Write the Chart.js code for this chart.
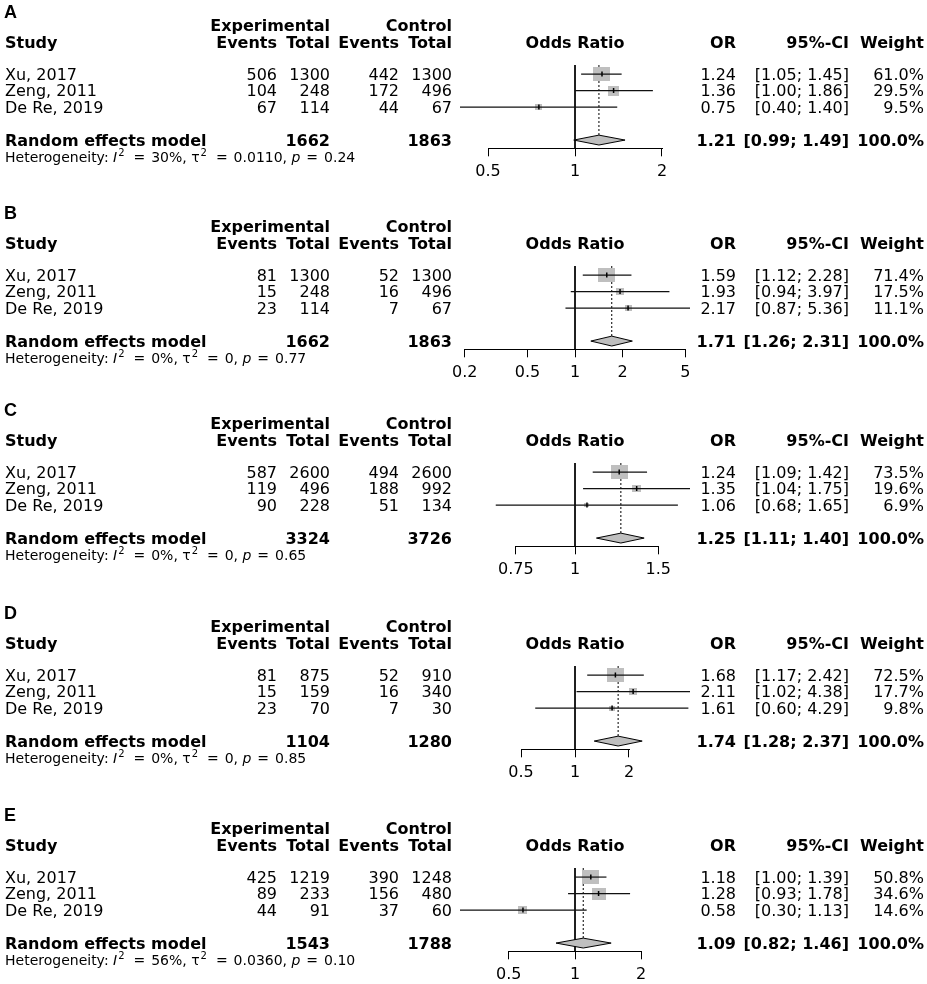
<!DOCTYPE html>
<html><head><meta charset="utf-8">
<script src="https://cdn.jsdelivr.net/npm/chart.js@4.4.1/dist/chart.umd.min.js"></script>
<style>
html,body{margin:0;padding:0;background:#fff;}
body{width:927px;height:984px;overflow:hidden;position:relative;}
canvas.panel{position:absolute;left:0;}
</style></head><body>
<script>
// ---------------- DATA ----------------
const panelLetters = ["A", "B", "C", "D", "E"];
const studies = ["Xu, 2017", "Zeng, 2011", "De Re, 2019"];
const expEvents  = [[506,104,67],[81,15,23],[587,119,90],[81,15,23],[425,89,44]];
const expTotal   = [[1300,248,114],[1300,248,114],[2600,496,228],[875,159,70],[1219,233,91]];
const ctrlEvents = [[442,172,44],[52,16,7],[494,188,51],[52,16,7],[390,156,37]];
const ctrlTotal  = [[1300,496,67],[1300,496,67],[2600,992,134],[910,340,30],[1248,480,60]];
const oddsRatio  = [[1.24,1.36,0.75],[1.59,1.93,2.17],[1.24,1.35,1.06],[1.68,2.11,1.61],[1.18,1.28,0.58]];
const ciLower    = [[1.05,1.00,0.40],[1.12,0.94,0.87],[1.09,1.04,0.68],[1.17,1.02,0.60],[1.00,0.93,0.30]];
const ciUpper    = [[1.45,1.86,1.40],[2.28,3.97,5.36],[1.42,1.75,1.65],[2.42,4.38,4.29],[1.39,1.78,1.13]];
const weightPct  = [[61.0,29.5,9.5],[71.4,17.5,11.1],[73.5,19.6,6.9],[72.5,17.7,9.8],[50.8,34.6,14.6]];
const pooledOR    = [1.21,1.71,1.25,1.74,1.09];
const pooledLower = [0.99,1.26,1.11,1.28,0.82];
const pooledUpper = [1.49,2.31,1.40,2.37,1.46];
const hetI2   = ["30%","0%","0%","0%","56%"];
const hetTau2 = ["0.0110","0","0","0","0.0360"];
const hetP    = ["0.24","0.77","0.65","0.85","0.10"];
const axisTicks = [[0.5,1,2],[0.2,0.5,1,2,5],[0.75,1,1.5],[0.5,1,2],[0.5,1,2]];

// ---------------- LAYOUT ----------------
const PANEL_TOP = [0, 201, 398, 601, 803];
const PANEL_W = 927, PANEL_H = 200;
const ROW_H = 16.5;
const Y_MIN = -0.55, Y_MAX = 4.5;
const TOP_PAD = 65;
const PLOT_LEFT = 460, PLOT_RIGHT = 690;
const AXIS_H = 40;
const POOLED_ROW = 4;
const DIAMOND_HALF = 0.3;
const FONT = '"DejaVu Sans", "Liberation Sans", sans-serif';
const GREY = '#bfbfbf';
const COL = {study:5, expEv:277, expTot:330, ctlEv:399, ctlTot:452, or:736, ci:849, w:924, plot:575};
const SQ_W = 16.5, SQ_H = 14;

function rectImage(s) {
  const c = document.createElement('canvas');
  c.width = Math.max(2, Math.round(SQ_W * s));
  c.height = Math.max(2, Math.round(SQ_H * s));
  const g = c.getContext('2d');
  g.fillStyle = GREY;
  g.fillRect(0, 0, c.width, c.height);
  return c;
}

function txt(ctx, s, x, yc, align, weight, size) {
  ctx.font = weight + ' ' + size + 'px ' + FONT;
  ctx.textAlign = align;
  ctx.textBaseline = 'alphabetic';
  ctx.fillStyle = '#000';
  ctx.fillText(s, x, yc + 0.365 * size);
}

// heterogeneity line, plotmath-like spacing
function drawHet(ctx, x, yc, p) {
  const size = 14, sup = 10, SUP_GAP = 3, EQ_PAD = 1.5;
  const base = yc + 0.365 * size;
  const parts = [
    ['Heterogeneity: ', 'n'], ['I', 'i'], ['2', 's'], ['=', 'e'], [hetI2[p] + ', ', 'n'],
    ['\u03C4', 'n'], ['2', 's'], ['=', 'e'], [hetTau2[p] + ', ', 'n'], ['p', 'i'], ['=', 'e'], [hetP[p], 'n']
  ];
  ctx.textAlign = 'left';
  ctx.textBaseline = 'alphabetic';
  ctx.fillStyle = '#000';
  let cx = x;
  for (const [s, k] of parts) {
    if (k === 's') {
      ctx.font = sup + 'px ' + FONT;
      ctx.fillText(s, cx + 1, base - 6);
      cx += ctx.measureText(s).width + 1 + SUP_GAP;
    } else if (k === 'e') {
      ctx.font = size + 'px ' + FONT;
      const sp = ctx.measureText(' ').width;
      cx += sp + EQ_PAD;
      ctx.fillText(s, cx, base);
      cx += ctx.measureText(s).width + EQ_PAD + sp;
    } else {
      ctx.font = (k === 'i' ? 'italic ' : '') + size + 'px ' + FONT;
      ctx.fillText(s, cx, base);
      cx += ctx.measureText(s).width;
    }
  }
}

const forestText = {
  id: 'forestText',
  afterDraw(chart) {
    const p = chart.options.plugins.forestText.panel;
    const ctx = chart.ctx;
    const ys = chart.scales.y, xs = chart.scales.x;
    const y = r => ys.getPixelForValue(r);
    ctx.save();
    // axis baseline between outer ticks
    const t = axisTicks[p];
    const ay = Math.round(xs.top - 0.5) + 0.5;
    ctx.strokeStyle = '#000'; ctx.lineWidth = 1;
    ctx.beginPath();
    ctx.moveTo(Math.round(xs.getPixelForValue(t[0])), ay);
    ctx.lineTo(Math.round(xs.getPixelForValue(t[t.length - 1])) + 1, ay);
    ctx.stroke();

    // panel letter
    ctx.font = 'bold 18px "Liberation Sans", Arial, sans-serif';
    ctx.textAlign = 'left'; ctx.textBaseline = 'alphabetic'; ctx.fillStyle = '#000';
    ctx.fillText(panelLetters[p], 4, y(-3.82) + 0.36 * 18);

    // headers
    txt(ctx, 'Experimental', COL.expTot, y(-2.95), 'right', 'bold', 16);
    txt(ctx, 'Control', COL.ctlTot, y(-2.95), 'right', 'bold', 16);
    const hy = y(-1.95);
    txt(ctx, 'Study', COL.study, hy, 'left', 'bold', 16);
    txt(ctx, 'Events', COL.expEv, hy, 'right', 'bold', 16);
    txt(ctx, 'Total', COL.expTot, hy, 'right', 'bold', 16);
    txt(ctx, 'Events', COL.ctlEv, hy, 'right', 'bold', 16);
    txt(ctx, 'Total', COL.ctlTot, hy, 'right', 'bold', 16);
    txt(ctx, 'Odds Ratio', COL.plot, hy, 'center', 'bold', 16);
    txt(ctx, 'OR', COL.or, hy, 'right', 'bold', 16);
    txt(ctx, '95%-CI', COL.ci, hy, 'right', 'bold', 16);
    txt(ctx, 'Weight', COL.w, hy, 'right', 'bold', 16);

    // study rows
    studies.forEach((s, i) => {
      const ry = y(i);
      txt(ctx, s, COL.study, ry, 'left', 'normal', 16);
      txt(ctx, String(expEvents[p][i]), COL.expEv, ry, 'right', 'normal', 16);
      txt(ctx, String(expTotal[p][i]), COL.expTot, ry, 'right', 'normal', 16);
      txt(ctx, String(ctrlEvents[p][i]), COL.ctlEv, ry, 'right', 'normal', 16);
      txt(ctx, String(ctrlTotal[p][i]), COL.ctlTot, ry, 'right', 'normal', 16);
      txt(ctx, oddsRatio[p][i].toFixed(2), COL.or, ry, 'right', 'normal', 16);
      txt(ctx, '[' + ciLower[p][i].toFixed(2) + '; ' + ciUpper[p][i].toFixed(2) + ']', COL.ci, ry, 'right', 'normal', 16);
      txt(ctx, weightPct[p][i].toFixed(1) + '%', COL.w, ry, 'right', 'normal', 16);
    });

    // pooled row
    const py = y(POOLED_ROW);
    const sum = a => a.reduce((u, v) => u + v, 0);
    txt(ctx, 'Random effects model', COL.study, py, 'left', 'bold', 16);
    txt(ctx, String(sum(expTotal[p])), COL.expTot, py, 'right', 'bold', 16);
    txt(ctx, String(sum(ctrlTotal[p])), COL.ctlTot, py, 'right', 'bold', 16);
    txt(ctx, pooledOR[p].toFixed(2), COL.or, py, 'right', 'bold', 16);
    txt(ctx, '[' + pooledLower[p].toFixed(2) + '; ' + pooledUpper[p].toFixed(2) + ']', COL.ci, py, 'right', 'bold', 16);
    txt(ctx, '100.0%', COL.w, py, 'right', 'bold', 16);

    drawHet(ctx, COL.study, y(5.0), p);
    ctx.restore();
  }
};

function makePanel(p) {
  const cv = document.createElement('canvas');
  cv.className = 'panel';
  cv.width = PANEL_W; cv.height = PANEL_H;
  cv.style.width = PANEL_W + 'px'; cv.style.height = PANEL_H + 'px';
  cv.style.top = PANEL_TOP[p] + 'px';
  document.body.appendChild(cv);

  const M = Math.max(...ciUpper[p], ...ciLower[p].map(v => 1 / v));
  const maxW = Math.max(...weightPct[p]);
  const squares = weightPct[p].map(w => rectImage(Math.sqrt(w / maxW)));

  const datasets = [];
  datasets.push({
    type: 'scatter', order: 0,
    data: oddsRatio[p].map((v, i) => ({x: v, y: i})),
    pointStyle: 'line', rotation: 90, pointRadius: 2.5,
    borderColor: '#000', backgroundColor: '#000', borderWidth: 1.5
  });
  ciLower[p].forEach((lo, i) => datasets.push({
    type: 'line', order: 1,
    data: [{x: lo, y: i}, {x: ciUpper[p][i], y: i}],
    borderColor: '#111', borderWidth: 1.2, pointRadius: 0, fill: false, clip: false
  }));
  datasets.push({
    type: 'scatter', order: 2,
    data: oddsRatio[p].map((v, i) => ({x: v, y: i})),
    pointStyle: ctx => squares[ctx.dataIndex], pointRadius: 5,
    borderWidth: 0, clip: false
  });
  const est = pooledOR[p];
  datasets.push({
    type: 'line', order: 3,
    data: [
      {x: pooledLower[p], y: POOLED_ROW}, {x: est, y: POOLED_ROW - DIAMOND_HALF},
      {x: pooledUpper[p], y: POOLED_ROW}, {x: est, y: POOLED_ROW + DIAMOND_HALF},
      {x: pooledLower[p], y: POOLED_ROW}
    ],
    borderColor: '#000', borderWidth: 1, backgroundColor: GREY,
    fill: 'shape', pointRadius: 0, tension: 0, clip: false
  });
  datasets.push({
    type: 'line', order: 4,
    data: [{x: est, y: Y_MIN}, {x: est, y: POOLED_ROW - DIAMOND_HALF}],
    borderColor: '#000', borderWidth: 1, borderDash: [2, 2], pointRadius: 0, fill: false
  });
  datasets.push({
    type: 'line', order: 5,
    data: [{x: 1, y: Y_MIN}, {x: 1, y: Y_MAX}],
    borderColor: '#000', borderWidth: 1, pointRadius: 0, fill: false
  });

  const chartBottom = TOP_PAD + (Y_MAX - Y_MIN) * ROW_H;
  new Chart(cv, {
    data: {datasets},
    options: {
      responsive: false, animation: false, devicePixelRatio: 1, events: [],
      layout: {padding: {left: PLOT_LEFT, right: PANEL_W - PLOT_RIGHT, top: TOP_PAD, bottom: PANEL_H - chartBottom - AXIS_H}},
      plugins: {legend: {display: false}, tooltip: {enabled: false}, forestText: {panel: p}},
      scales: {
        x: {
          type: 'logarithmic', position: 'bottom', min: 1 / M, max: M, bounds: 'data',
          afterBuildTicks: s => { s.ticks = axisTicks[p].map(v => ({value: v})); },
          afterFit: s => { s.height = AXIS_H; },
          border: {display: false},
          grid: {drawOnChartArea: false, drawTicks: true, tickLength: 8, color: '#000', lineWidth: 1},
          ticks: {font: {family: FONT, size: 16}, color: '#000', padding: 6, autoSkip: false, maxRotation: 0, minRotation: 0,
                  callback: v => String(v)}
        },
        y: {type: 'linear', reverse: true, min: Y_MIN, max: Y_MAX, bounds: 'data', display: false}
      }
    },
    plugins: [forestText]
  });
}

for (let p = 0; p < panelLetters.length; p++) makePanel(p);
</script>
</body></html>
